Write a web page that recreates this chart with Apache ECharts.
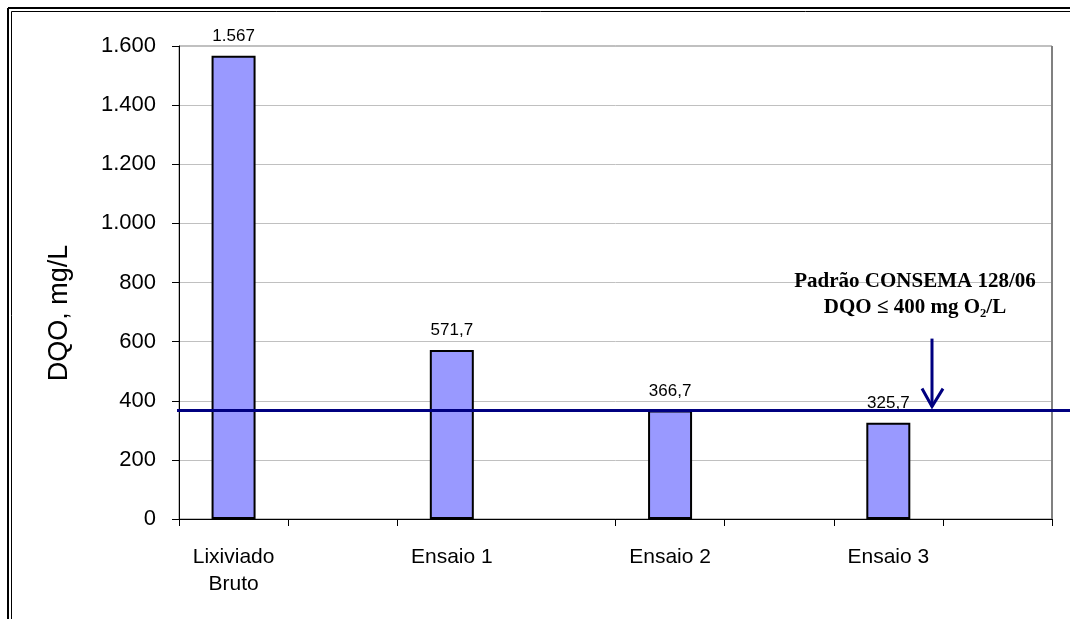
<!DOCTYPE html>
<html><head><meta charset="utf-8">
<script src="https://cdn.jsdelivr.net/npm/echarts@6/dist/echarts.min.js"></script>
<style>html,body{margin:0;padding:0;background:#fff}#c{width:1070px;height:619px}</style>
</head><body><div id="c"></div>
<script>
// ---- data ----
const categories = ['Lixiviado\nBruto', '', 'Ensaio 1', '', 'Ensaio 2', '', 'Ensaio 3', ''];
const dqoValues = [1567, null, 571.7, null, 366.7, null, 325.7, null];
const yMin = 0, yMax = 1600, yStep = 200;
const referenceLevel = [366.7];
const annotationLines = ['Padrão CONSEMA 128/06', 'DQO ≤ 400 mg O₂/L'];
const yAxisTitle = 'DQO, mg/L';

function fmtPt(v) {
  if (Number.isInteger(v)) return String(v).replace(/\B(?=(\d{3})+(?!\d))/g, '.');
  return v.toFixed(1).replace('.', ',');
}

const FONT = "'Liberation Sans', Arial, sans-serif";
const chart = echarts.init(document.getElementById('c'), null, {renderer: 'canvas'});
const GRID = {left: 179, right: 18, top: 46, bottom: 100};

chart.setOption({
  animation: false,
  backgroundColor: '#fff',
  grid: Object.assign({show: true, borderColor: '#808080', borderWidth: 1, containLabel: false}, GRID),
  xAxis: {
    type: 'category',
    data: categories,
    boundaryGap: true,
    axisLine: {show: true, lineStyle: {color: '#000', width: 1}},
    axisTick: {show: true, length: 7, lineStyle: {color: '#000', width: 1},
      interval: function (i) { return i !== 3; }},
    axisLabel: {interval: 0, color: '#000', fontFamily: FONT, fontSize: 21, margin: 25, lineHeight: 27},
    splitLine: {show: false}
  },
  yAxis: {
    type: 'value', min: yMin, max: yMax, interval: yStep,
    axisLine: {show: true, lineStyle: {color: '#000', width: 1}},
    axisTick: {show: true, length: 7, lineStyle: {color: '#000', width: 1}},
    axisLabel: {color: '#000', fontFamily: FONT, fontSize: 22, margin: 23, formatter: v => fmtPt(v)},
    splitLine: {show: true, lineStyle: {color: '#c0c0c0', width: 1}}
  },
  series: [{
    type: 'bar',
    data: dqoValues,
    barWidth: 44,
    itemStyle: {color: '#9999ff', borderColor: '#000', borderWidth: 2},
    label: {show: true, position: 'top', distance: 11, color: '#000', fontFamily: FONT, fontSize: 17,
      formatter: p => (p.value == null ? '' : fmtPt(p.value))}
  }]
});

const W = chart.getWidth(), H = chart.getHeight();
const yRef = chart.convertToPixel({yAxisIndex: 0}, referenceLevel[0]);
const yTop = chart.convertToPixel({yAxisIndex: 0}, yMax);
const yBot = chart.convertToPixel({yAxisIndex: 0}, yMin);
const xRight = W - GRID.right;
const arrowX = 932;

chart.setOption({
  graphic: [
    {type: 'line', z: 100, shape: {x1: xRight, y1: yTop, x2: xRight, y2: yBot}, style: {stroke: '#808080', lineWidth: 2}},
    {type: 'line', z: 100, shape: {x1: GRID.left - 2, y1: yRef, x2: W, y2: yRef}, style: {stroke: '#000080', lineWidth: 3}},
    {type: 'line', z: 100, shape: {x1: arrowX, y1: yRef - 72, x2: arrowX, y2: yRef - 4}, style: {stroke: '#000080', lineWidth: 3}},
    {type: 'polyline', z: 100, shape: {points: [[arrowX - 10, yRef - 22], [arrowX, yRef - 4], [arrowX + 11, yRef - 22]]},
      style: {stroke: '#000080', lineWidth: 3, fill: null}},
    {type: 'text', z: 100, x: 915, y: 295, style: {text: annotationLines.join('\n'), align: 'center', verticalAlign: 'middle',
      font: "bold 21px 'Liberation Serif', 'Times New Roman', serif", lineHeight: 26, fill: '#000'}},
    {type: 'text', z: 100, x: 60, y: 313, rotation: Math.PI / 2, style: {text: yAxisTitle, align: 'center', verticalAlign: 'middle',
      font: "27px 'Liberation Sans', Arial, sans-serif", fill: '#000'}},
    {type: 'line', z: 100, shape: {x1: 8, y1: 8, x2: 8, y2: H}, style: {stroke: '#000', lineWidth: 2}},
    {type: 'line', z: 100, shape: {x1: 8, y1: 8, x2: W, y2: 8}, style: {stroke: '#000', lineWidth: 2}},
    {type: 'line', z: 100, shape: {x1: 11.5, y1: 11.5, x2: 11.5, y2: H}, style: {stroke: '#000', lineWidth: 1}},
    {type: 'line', z: 100, shape: {x1: 11.5, y1: 11.5, x2: W, y2: 11.5}, style: {stroke: '#000', lineWidth: 1}}
  ]
});
</script></body></html>
